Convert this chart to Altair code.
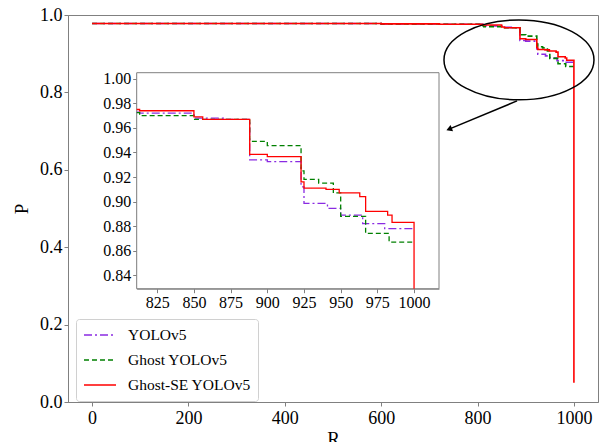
import altair as alt
import pandas as pd

models = ["YOLOv5", "Ghost YOLOv5", "Ghost-SE YOLOv5"]
line_colors = ["#8A2BE2", "#008000", "#FF0000"]
line_dashes = [[8, 3, 2, 3], [5, 3], [1, 0]]

yolo_r = [0, 600, 720, 811, 813, 850, 870, 888, 900, 923, 925, 941, 950, 965, 980, 1000]
yolo_p = [0.978, 0.977, 0.976, 0.9728, 0.972, 0.968, 0.967, 0.934, 0.9325, 0.912, 0.8985,
          0.8944, 0.889, 0.882, 0.878, 0.878]

ghost_r = [0, 600, 720, 811, 813, 850, 888, 900, 923, 925, 935, 945, 950, 967, 983, 1000]
ghost_p = [0.978, 0.977, 0.976, 0.9725, 0.970, 0.967, 0.949, 0.9455, 0.925, 0.918, 0.915,
           0.907, 0.888, 0.874, 0.867, 0.867]

se_r = [0, 600, 720, 811, 813, 850, 856, 888, 900, 923, 925, 940, 949, 963, 967, 982, 985, 1000]
se_p = [0.978, 0.977, 0.976, 0.975, 0.974, 0.969, 0.967, 0.9385, 0.9366, 0.916, 0.911, 0.910,
        0.907, 0.904, 0.892, 0.889, 0.883, 0.05]

main_x_ticks = [0, 200, 400, 600, 800, 1000]
main_y_ticks = [0.0, 0.2, 0.4, 0.6, 0.8, 1.0]
inset_x_ticks = [825, 850, 875, 900, 925, 950, 975, 1000]
inset_y_ticks = [0.84, 0.86, 0.88, 0.90, 0.92, 0.94, 0.96, 0.98, 1.00]

rows = []
idx = 0
for name, rs, ps in [(models[0], yolo_r, yolo_p), (models[1], ghost_r, ghost_p), (models[2], se_r, se_p)]:
    for r, p in zip(rs, ps):
        rows.append({"model": name, "r": r, "p": p, "idx": idx})
        idx += 1
df = pd.DataFrame(rows)

FONT = "Liberation Serif, Times New Roman, serif"
GRAY = "#808080"

color_enc = alt.Color("model:N", scale=alt.Scale(domain=models, range=line_colors),
                      sort=models, title=None)
dash_enc = alt.StrokeDash("model:N", scale=alt.Scale(domain=models, range=line_dashes),
                          sort=models, title=None)

main_lines = alt.Chart(df).mark_line(interpolate="step-after", strokeWidth=1.6).encode(
    x=alt.X("r:Q", scale=alt.Scale(domain=[-50, 1050], nice=False, zero=False),
            axis=alt.Axis(values=main_x_ticks, title="R", format="d", labelFontSize=18,
                          titleFontSize=19, titleFontWeight="normal", titlePadding=2,
                          labelPadding=3)),
    y=alt.Y("p:Q", scale=alt.Scale(domain=[0, 1], nice=False, zero=False),
            axis=alt.Axis(values=main_y_ticks, title="P", format=".1f", labelFontSize=18,
                          titleFontSize=19, titleFontWeight="normal", titlePadding=8,
                          labelPadding=2)),
    color=color_enc,
    strokeDash=dash_enc,
    order=alt.Order("idx:Q"),
)

ellipse_path = "M -1 0 A 1 0.533 0 1 1 1 0 A 1 0.533 0 1 1 -1 0 Z"
ellipse = alt.Chart(pd.DataFrame({"a": [0]})).mark_point(
    shape=ellipse_path, size=22500, filled=False, stroke="black", strokeWidth=1.5, opacity=1
).encode(x=alt.datum(886), y=alt.datum(0.884))

arrow_line = alt.Chart(pd.DataFrame({"a": [0]})).mark_rule(color="black", strokeWidth=1.5).encode(
    x=alt.datum(882), y=alt.datum(0.778), x2=alt.datum(741), y2=alt.datum(0.705)
)
arrow_head = alt.Chart(pd.DataFrame({"a": [0]})).mark_point(
    shape="triangle-up", size=45, filled=True, color="black", opacity=1, angle=248
).encode(x=alt.datum(741), y=alt.datum(0.705))

main_group = alt.layer(main_lines, ellipse, arrow_line, arrow_head)

inset_xs = alt.Scale(domain=[811, 1017], range=[68.7, 371], nice=False, zero=False, clamp=True)
inset_ys = alt.Scale(domain=[0.829, 1.005], range=[273.7, 57.7], nice=False, zero=False, clamp=True)

inset_box = alt.Chart(pd.DataFrame({"a": [0]})).mark_rect(
    fill="white", stroke=GRAY, strokeWidth=1
).encode(
    x=alt.X(datum=811, type="quantitative", scale=inset_xs,
            axis=alt.Axis(orient="bottom", offset=-113.3, values=inset_x_ticks, title=None,
                          format="d", labelFontSize=16, labelPadding=2)),
    x2=alt.datum(1017),
    y=alt.Y(datum=0.829, type="quantitative", scale=inset_ys,
            axis=alt.Axis(orient="left", offset=-68.7, values=inset_y_ticks, title=None,
                          format=".2f", labelFontSize=16, labelPadding=2)),
    y2=alt.datum(1.005),
)

inset_lines = alt.Chart(df).transform_filter("datum.r >= 811").mark_line(
    interpolate="step-after", strokeWidth=1.3
).encode(
    x=alt.X("r:Q", scale=inset_xs),
    y=alt.Y("p:Q", scale=inset_ys),
    color=color_enc,
    strokeDash=dash_enc,
    order=alt.Order("idx:Q"),
)

inset_group = alt.layer(inset_box, inset_lines)

chart = alt.layer(main_group, inset_group).resolve_scale(
    x="independent", y="independent"
).properties(
    width=530, height=387,
    autosize=alt.AutoSizeParams(type="none"),
    padding={"left": 68, "top": 15, "right": 4, "bottom": 40},
).configure(font=FONT).configure_view(
    stroke=GRAY, strokeWidth=1
).configure_axis(
    grid=False, domainColor=GRAY, tickColor=GRAY, tickSize=4, labelColor="black",
    titleColor="black", labelFont=FONT, titleFont=FONT
).configure_legend(
    orient="none", legendX=8, legendY=304, fillColor="white", strokeColor="#d0d0d0",
    cornerRadius=3, padding=7, symbolType="M -1 0 L 3 0", symbolSize=256,
    symbolStrokeWidth=1.6, labelFont=FONT, labelFontSize=15.5, labelFontWeight="normal",
    labelColor="black", labelOffset=27, rowPadding=7, labelLimit=0
)

chart.save("out.html", embed_options={"renderer": "svg", "actions": False})
